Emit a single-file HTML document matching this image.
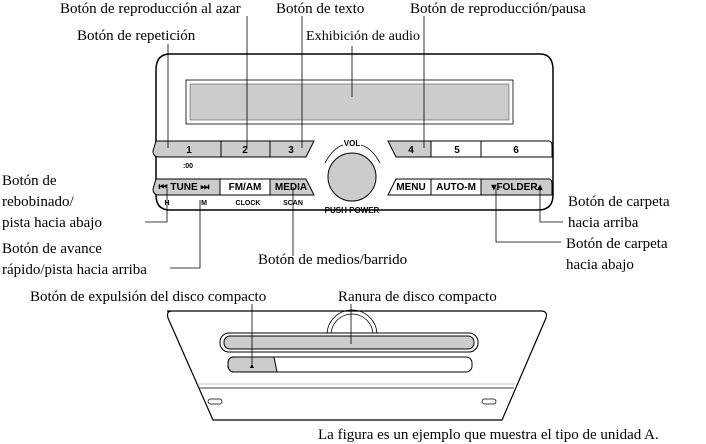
<!DOCTYPE html>
<html><head><meta charset="utf-8"><style>
html,body{margin:0;padding:0;background:#fff;}
svg{display:block}
.t{font-family:"Liberation Serif","Times New Roman",Times,serif;font-size:15px;fill:#000}
.b{font-family:"Liberation Sans",Arial,sans-serif;font-size:10px;font-weight:bold;fill:#000;text-anchor:middle}
.l{stroke:#000;stroke-width:0.8;fill:none}
</style></head><body>
<svg width="706" height="444" viewBox="0 0 706 444" xmlns="http://www.w3.org/2000/svg">
<path d="M170,54 L540,54 Q553,54 553,70 L553,195 Q553,210 538,210 L170,210 Q156,210 156,195 L156,70 Q156,54 170,54 Z" fill="#fff" stroke="#000" stroke-width="1.5"/>
<rect x="186" y="80" width="327" height="44" fill="#fff" stroke="#000" stroke-width="0.8"/>
<rect x="190" y="84" width="319" height="36" fill="#ccc" stroke="#555" stroke-width="0.6"/>
<path d="M156,141 L221,141 L221,157 L159,157 Q153,157 153,151 Z" fill="#ccc" stroke="#000"/>
<path d="M221,141 L270,141 L270,157 L221,157 Z" fill="#ccc" stroke="#000"/>
<path d="M270,141 L314,141 L306,157 L270,157 Z" fill="#ccc" stroke="#000"/>
<path d="M388,141 L431,141 L431,157 L396,157 Z" fill="#ccc" stroke="#000"/>
<path d="M431,141 L481,141 L481,157 L431,157 Z" fill="#fff" stroke="#000"/>
<path d="M481,141 L549,141 Q552,141 552,146 L552,157 L481,157 Z" fill="#fff" stroke="#000"/>
<text class="b" x="189" y="153">1</text><text class="b" x="245" y="153">2</text><text class="b" x="291" y="153">3</text>
<text class="b" x="411" y="153">4</text><text class="b" x="457" y="153">5</text><text class="b" x="516" y="153">6</text>
<text class="b" x="188" y="168" style="font-size:7px">:00</text>
<path d="M156,179 L220,179 L220,195 L159,195 Q153,195 153,189 Z" fill="#ccc" stroke="#000"/>
<path d="M220,179 L270,179 L270,195 L220,195 Z" fill="#fff" stroke="#000"/>
<path d="M270,179 L306,179 L314,195 L270,195 Z" fill="#ccc" stroke="#000"/>
<path d="M396,179 L431,179 L431,195 L388,195 Z" fill="#fff" stroke="#000"/>
<path d="M431,179 L481,179 L481,195 L431,195 Z" fill="#fff" stroke="#000"/>
<path d="M481,179 L549,179 Q552,179 552,184 L552,195 L481,195 Z" fill="#ccc" stroke="#000"/>
<text class="b" x="184" y="190">⏮ TUNE ⏭</text><text class="b" x="245" y="190">FM/AM</text><text class="b" x="291" y="190">MEDIA</text>
<text class="b" x="411" y="190">MENU</text><text class="b" x="456" y="190">AUTO-M</text><text class="b" x="517" y="190">▾FOLDER▴</text>
<text class="b" x="167" y="205" style="font-size:7px">H</text><text class="b" x="204" y="205" style="font-size:7px">M</text>
<text class="b" x="248" y="205" style="font-size:7px">CLOCK</text><text class="b" x="293" y="205" style="font-size:7px">SCAN</text>
<circle cx="352" cy="177" r="24" fill="#ccc" stroke="#000" stroke-width="1"/>
<path d="M325,163 Q333,148 343,145" class="l" stroke-width="1.2"/>
<path d="M361,145 Q372,148 380,163" class="l" stroke-width="1.2"/>
<text class="b" x="352" y="146" style="font-size:8px">VOL</text>
<text class="b" x="352" y="213" style="font-size:8px">PUSH POWER</text>
<path d="M167,311 L541,311 Q548,311 546,318 L502,420 L213,420 L168,318 Q166,311 172,311 Z" fill="#fff" stroke="#000" stroke-width="1.2"/>
<line x1="199" y1="388" x2="514" y2="388" stroke="#000" stroke-width="0.8"/>
<line x1="197" y1="384" x2="516" y2="384" stroke="#888" stroke-width="0.5"/>
<path d="M327,335 A25,25 0 0 1 377,335" fill="none" stroke="#000" stroke-width="0.8"/>
<path d="M331,335 A21,21 0 0 1 373,335" fill="none" stroke="#000" stroke-width="0.8"/>
<rect x="220" y="333" width="258" height="19" rx="9" fill="#fff" stroke="#000"/>
<rect x="224" y="336" width="250" height="13" rx="6" fill="#ccc" stroke="#000"/>
<rect x="228" y="357" width="244" height="15" rx="6" fill="#fff" stroke="#000"/>
<path d="M234,357 L274,357 L277,372 L234,372 Q228,372 228,364 Q228,357 234,357 Z" fill="#ccc" stroke="#000"/>
<text class="b" x="252" y="368" style="font-size:7px">▲</text>
<rect x="208" y="399" width="14" height="5" rx="2.5" fill="#fff" stroke="#000" stroke-width="0.7"/>
<rect x="482" y="399" width="14" height="5" rx="2.5" fill="#fff" stroke="#000" stroke-width="0.7"/>
<line class="l" x1="247" y1="16" x2="247" y2="148"/>
<line class="l" x1="302" y1="16" x2="302" y2="148"/>
<line class="l" x1="424" y1="16" x2="424" y2="148"/>
<line class="l" x1="168" y1="44" x2="168" y2="148"/>
<line class="l" x1="352" y1="46" x2="352" y2="97"/>
<polyline class="l" points="167,188 167,222 145,222"/>
<polyline class="l" points="200,200 200,268 170,268"/>
<line class="l" x1="293" y1="187" x2="293" y2="256"/>
<polyline class="l" points="540,188 540,222 563,222"/>
<polyline class="l" points="496,188 496,242 561,242"/>
<line class="l" x1="252" y1="304" x2="252" y2="364"/>
<line class="l" x1="351" y1="304" x2="351" y2="344"/>
<text class="t" x="60" y="13">Botón de reproducción al azar</text>
<text class="t" x="276" y="13">Botón de texto</text>
<text class="t" x="410" y="13">Botón de reproducción/pausa</text>
<text class="t" x="77" y="40">Botón de repetición</text>
<text class="t" x="306" y="40" style="font-size:14px" textLength="114">Exhibición de audio</text>
<text class="t" x="2" y="185">Botón de</text>
<text class="t" x="2" y="206">rebobinado/</text>
<text class="t" x="2" y="227">pista hacia abajo</text>
<text class="t" x="2" y="253">Botón de avance</text>
<text class="t" x="2" y="274">rápido/pista hacia arriba</text>
<text class="t" x="258" y="264">Botón de medios/barrido</text>
<text class="t" x="568" y="206">Botón de carpeta</text>
<text class="t" x="568" y="227">hacia arriba</text>
<text class="t" x="566" y="248">Botón de carpeta</text>
<text class="t" x="566" y="269">hacia abajo</text>
<text class="t" x="30" y="301">Botón de expulsión del disco compacto</text>
<text class="t" x="338" y="301">Ranura de disco compacto</text>
<text class="t" x="318" y="439">La figura es un ejemplo que muestra el tipo de unidad A.</text>
</svg>
</body></html>
